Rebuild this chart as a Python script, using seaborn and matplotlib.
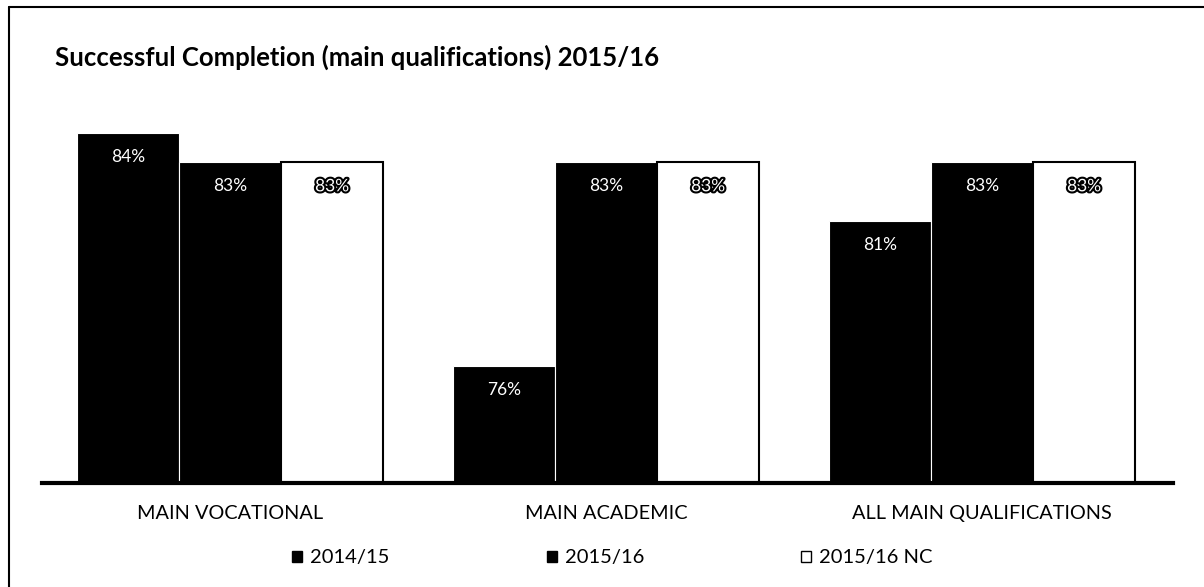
import pandas as pd
import matplotlib.pyplot as plt
import matplotlib.patheffects as pe
from matplotlib.lines import Line2D
import seaborn as sns

sns.set_theme(style="white")
plt.rcParams["font.family"] = ["Lato", "DejaVu Sans"]

# chart data
categories = ["MAIN VOCATIONAL", "MAIN ACADEMIC", "ALL MAIN QUALIFICATIONS"]
series = ["2014/15", "2015/16", "2015/16 NC"]
values_1415 = [84, 76, 81]
values_1516 = [83, 83, 83]
values_1516_nc = [83, 83, 83]

df = pd.DataFrame({
    "category": categories * 3,
    "series": [series[0]] * 3 + [series[1]] * 3 + [series[2]] * 3,
    "value": values_1415 + values_1516 + values_1516_nc,
})

fig = plt.figure(figsize=(12.04, 5.87), dpi=100)
ax = fig.add_axes([42 / 1204, 1 - 483 / 587, 1131 / 1204, 379 / 587])

sns.barplot(
    data=df,
    x="category",
    y="value",
    hue="series",
    order=categories,
    hue_order=series,
    palette=["black", "black", "white"],
    width=0.815,
    gap=0,
    ax=ax,
)

ax.set_ylim(72, 85)
ax.set_xlim(-0.5, 2.508)

# bar edges and labels inside the bar tops
for i, container in enumerate(ax.containers):
    for bar in container.patches:
        if i < 2:
            bar.set_edgecolor("white")
            bar.set_linewidth(0.8)
        else:
            bar.set_edgecolor("black")
            bar.set_linewidth(1.5)
        top = bar.get_y() + bar.get_height()
        txt = ax.annotate(
            f"{top:.0f}%",
            (bar.get_x() + bar.get_width() / 2, top),
            xytext=(0, -24 * 72 / 100),
            textcoords="offset points",
            ha="center",
            va="center",
            color="white",
            fontsize=12.5,
        )
        if i == 2:
            txt.set_path_effects([pe.withStroke(linewidth=3, foreground="black")])

for side in ["top", "right", "left"]:
    ax.spines[side].set_visible(False)
ax.spines["bottom"].set_linewidth(3)
ax.spines["bottom"].set_color("black")
ax.set_yticks([])
ax.set_xlabel("")
ax.set_ylabel("")
ax.tick_params(axis="x", length=0, pad=16, labelsize=14.3, colors="black")

handles, labels = ax.get_legend_handles_labels()
ax.get_legend().remove()
for h in handles:
    h.set_edgecolor("black")
    h.set_linewidth(1)
fig.legend(
    handles,
    labels,
    loc="center left",
    bbox_to_anchor=(274 / 1204, 1 - 558 / 587),
    ncol=3,
    frameon=False,
    handlelength=0.5,
    handleheight=0.5,
    handletextpad=0.4,
    columnspacing=7.8,
    fontsize=14.5,
    labelcolor="black",
)

fig.text(
    55 / 1204,
    1 - 57 / 587,
    "Successful Completion (main qualifications) 2015/16",
    ha="left",
    va="center",
    fontsize=18.5,
    fontweight="bold",
    color="black",
)

# outer frame (top and left edges visible in the scan)
fig.add_artist(Line2D([9 / 1204, 1], [1 - 7 / 587, 1 - 7 / 587], color="black", lw=1.5, transform=fig.transFigure))
fig.add_artist(Line2D([9 / 1204, 9 / 1204], [0, 1 - 7 / 587], color="black", lw=1.5, transform=fig.transFigure))

fig.savefig("out.png", dpi=100)
